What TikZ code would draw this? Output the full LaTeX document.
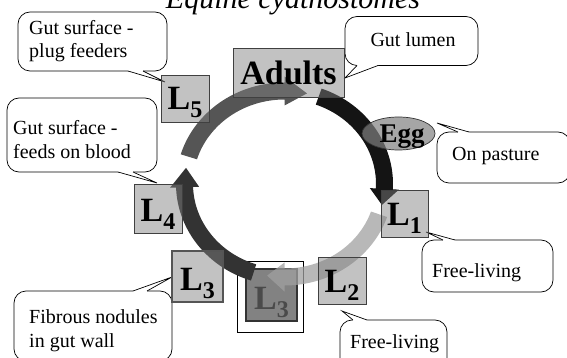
\documentclass[tikz,border=0pt]{standalone}
\usepackage{fontspec}
\setmainfont{Liberation Serif}
\usetikzlibrary{calc}
\definecolor{boxfill}{HTML}{808080}
\definecolor{boxedge}{HTML}{404040}
\definecolor{darkfill}{HTML}{828282}
\definecolor{eggfill}{HTML}{808080}
\definecolor{arcblack}{HTML}{141414}
\definecolor{arclight}{HTML}{A0A0A0}
\definecolor{arcdark}{HTML}{333333}
\definecolor{arcmid}{HTML}{555555}
\definecolor{dimtext}{HTML}{4A4A4A}
\newcommand{\ringarrow}[5]{%
  \fill[#1, opacity=#5]
    ($(C)+(#2:108.5pt and 101.5pt)$)
    arc[start angle=#2, end angle=#3, x radius=108.5pt, y radius=101.5pt]
    -- ($(C)+(#3:114.5pt and 107.5pt)$)
    -- ($(C)+(#4:100pt and 93pt)$)
    -- ($(C)+(#3:85.5pt and 78.5pt)$)
    -- ($(C)+(#3:91.5pt and 84.5pt)$)
    arc[start angle=#3, end angle=#2, x radius=91.5pt, y radius=84.5pt]
    -- cycle;}
\tikzset{
  stagebox/.style={draw=boxedge, fill=boxfill, fill opacity=0.48, line width=0.8pt, inner sep=0pt},
  callbox/.style={draw=black, fill=white, line width=0.7pt, rounded corners=12pt, inner sep=0pt},
  wedgeline/.style={draw=black, line width=0.7pt},
  ctext/.style={font=\fontsize{20}{24}\selectfont, inner sep=0pt},
  stagetext/.style={font=\fontsize{34}{34}\selectfont\bfseries, inner sep=0pt, anchor=base},
}
\newcommand{\Lsub}[1]{L\raisebox{-8pt}{\fontsize{24}{24}\selectfont\bfseries #1}}
\begin{document}
\begin{tikzpicture}[x=1pt,y=-1pt]
\useasboundingbox (0,0) rectangle (567,358);
\clip (0,0) rectangle (567,358);
\coordinate (C) at (284.5,184);

% title
\node[font=\fontsize{30}{30}\selectfont\itshape, anchor=base, inner sep=0pt] (title) at (293,9) {Equine cyathostomes};

% callouts
\node[callbox, minimum width=149pt, minimum height=59pt] (cplug) at (92.5,41.5) {};
\coordinate (tplug) at (165,82);
\fill[white] (128,69.5) -- (128,71) -- (tplug) -- (143,71) -- (143,69.5) -- cycle;
\draw[wedgeline] (128,71) -- (tplug) -- (143,71);

\node[callbox, minimum width=150pt, minimum height=74pt] (cblood) at (82,135) {};
\coordinate (tblood) at (157,183);
\fill[white] (118,170.5) -- (118,172) -- (tblood) -- (133,172) -- (133,170.5) -- cycle;
\draw[wedgeline] (118,172) -- (tblood) -- (133,172);

\node[callbox, minimum width=133pt, minimum height=49pt] (clumen) at (411.5,41) {};
\coordinate (tlumen) at (345,78);
\fill[white] (357,64) -- (357,65.5) -- (tlumen) -- (378,65.5) -- (378,64) -- cycle;
\draw[wedgeline] (357,65.5) -- (tlumen) -- (378,65.5);

\node[callbox, minimum width=133pt, minimum height=51pt] (cpast) at (503.5,157.5) {};
\coordinate (tpast) at (437,123);
\fill[white] (458,133.5) -- (458,132) -- (tpast) -- (469,132) -- (469,133.5) -- cycle;
\draw[wedgeline] (458,132) -- (tpast) -- (469,132);

\node[callbox, minimum width=131pt, minimum height=52pt] (cfree1) at (487.5,266) {};
\coordinate (tfree1) at (426,232);
\fill[white] (443,241.5) -- (443,240) -- (tfree1) -- (455,240) -- (455,241.5) -- cycle;
\draw[wedgeline] (443,240) -- (tfree1) -- (455,240);

\node[callbox, minimum width=107pt, minimum height=60pt] (cfree2) at (393.5,350) {};
\coordinate (tfree2) at (342,311);
\fill[white] (353,321.5) -- (353,320) -- (tfree2) -- (367,320) -- (367,321.5) -- cycle;
\draw[wedgeline] (353,320) -- (tfree2) -- (367,320);

\node[callbox, minimum width=158pt, minimum height=70pt] (cfib) at (93,326) {};
\coordinate (tfib) at (172,277);
\fill[white] (133,292.5) -- (133,291) -- (tfib) -- (147,291) -- (147,292.5) -- cycle;
\draw[wedgeline] (133,291) -- (tfib) -- (147,291);

% centre L3 (below the ring)
\node[draw=black, fill=white, line width=0.7pt, inner sep=0pt, minimum width=66pt, minimum height=71pt] (l3frame) at (270,296.5) {};
\node[draw=arcdark, fill=darkfill, line width=1.6pt, inner sep=0pt, minimum width=51pt, minimum height=52pt] (l3c) at (271.5,295) {};

% ring arrows
\ringarrow{arcblack}{70}{-3}{-13}{1}
\ringarrow{arcdark}{252}{182}{170}{1}
\ringarrow{arclight}{-19}{-90}{-100}{0.75}
\ringarrow{arcmid}{163}{90}{77}{1}

% stage boxes (see-through fill, above the ring)
\node[stagebox, minimum width=48pt, minimum height=47pt] (l5) at (185,98.5) {};
\node[stagebox, minimum width=111pt, minimum height=49pt] (adults) at (288.5,72.5) {};
\node[stagebox, minimum width=47pt, minimum height=47pt] (l1) at (404.5,213.5) {};
\node[stagebox, minimum width=48pt, minimum height=47pt] (l2) at (342,280.5) {};
\node[stagebox, draw=arcmid, line width=1.8pt, minimum width=51pt, minimum height=51pt] (l3l) at (197.5,276.5) {};
\node[stagebox, minimum width=48pt, minimum height=49pt] (l4) at (158,208.5) {};
\draw[draw=arcdark, fill=eggfill, fill opacity=0.7, line width=0.7pt] (398.5,133.5) ellipse [x radius=36.5pt, y radius=16.5pt];
\coordinate (egg) at (398.5,133.5);

% stage labels
\node[stagetext] (tl5) at (185,110) {\Lsub{5}};
\node[stagetext] (tadults) at (288.5,85) {Adults};
\node[stagetext] (tl1) at (404.5,225) {\Lsub{1}};
\node[stagetext] (tl2) at (342,292) {\Lsub{2}};
\node[stagetext, text=dimtext] (tl3c) at (271.5,309) {\Lsub{3}};
\node[stagetext] (tl3l) at (197.5,290) {\Lsub{3}};
\node[stagetext] (tl4) at (158,221) {\Lsub{4}};
\node[font=\fontsize{27}{27}\selectfont\bfseries, inner sep=0pt, anchor=base] (tegg) at (402,143) {Egg};

% callout texts
\node[ctext, anchor=base west] (x1a) at (29,35) {Gut surface -};
\node[ctext, anchor=base west] (x1b) at (29,58) {plug feeders};
\node[ctext, anchor=base west] (x2a) at (13,135) {Gut surface -};
\node[ctext, anchor=base west] (x2b) at (13,159) {feeds on blood};
\node[ctext, anchor=base] (x3) at (413,47) {Gut lumen};
\node[ctext, anchor=base west] (x4) at (452,161) {On pasture};
\node[ctext, anchor=base west] (x5) at (432,277) {Free-living};
\node[ctext, anchor=base west] (x6) at (350,348) {Free-living};
\node[ctext, anchor=base west] (x7a) at (29,323) {Fibrous nodules};
\node[ctext, anchor=base west] (x7b) at (29,347) {in gut wall};
\end{tikzpicture}
\end{document}
